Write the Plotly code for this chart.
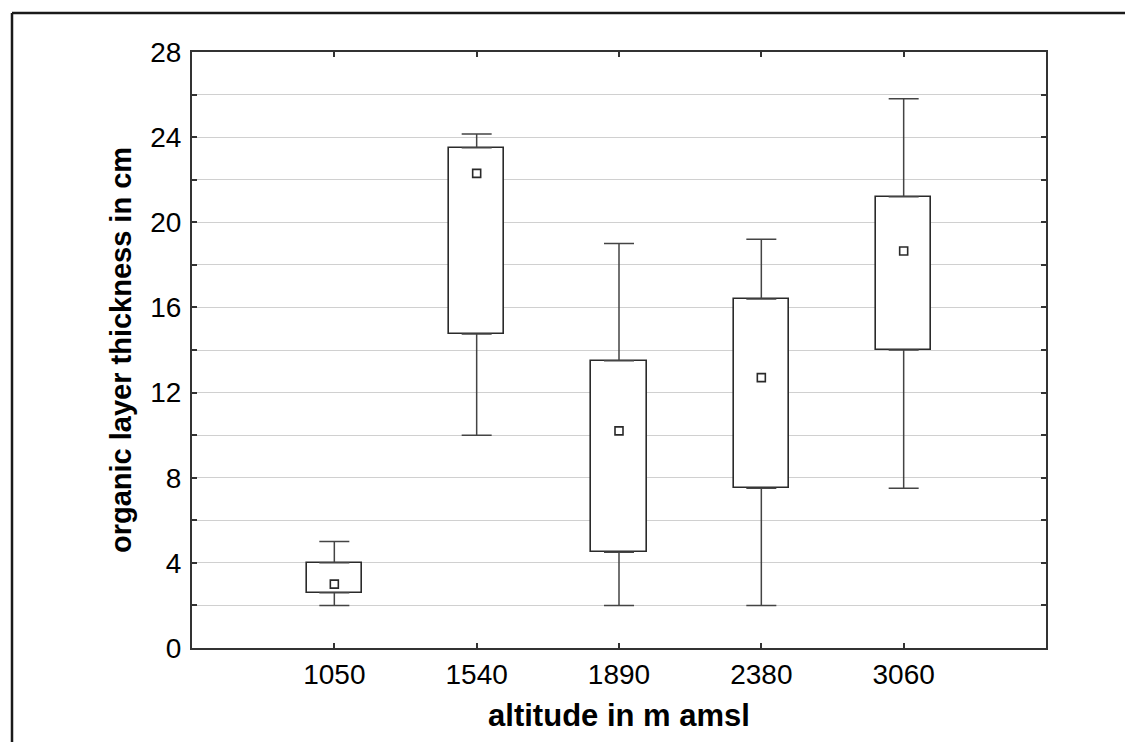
import plotly.graph_objects as go

# Organic layer thickness (cm) by altitude (m amsl)
altitudes = ["1050", "1540", "1890", "2380", "3060"]
whisker_low = [2.0, 10.0, 2.0, 2.0, 7.5]
box_low = [2.6, 14.75, 4.5, 7.5, 14.0]
box_high = [4.0, 23.5, 13.5, 16.4, 21.2]
whisker_high = [5.0, 24.15, 19.0, 19.2, 25.8]
centre_point = [3.0, 22.3, 10.2, 12.7, 18.65]

y_ticks = list(range(0, 29, 2))
y_tick_text = [str(v) if v % 4 == 0 else "" for v in y_ticks]

FONT = "Liberation Sans, Arial, sans-serif"
DARK = "#2a2a2a"

fig = go.Figure()

# boxes (lower to upper box edge)
fig.add_trace(go.Bar(
    x=altitudes,
    y=[h - l for h, l in zip(box_high, box_low)],
    base=box_low,
    width=0.39,
    marker=dict(color="white", line=dict(color=DARK, width=1.6)),
    showlegend=False,
    hoverinfo="skip",
))

# upper whiskers
fig.add_trace(go.Scatter(
    x=altitudes, y=box_high, mode="markers",
    marker=dict(size=1, color="rgba(0,0,0,0)"),
    error_y=dict(type="data", symmetric=False,
                 array=[w - b for w, b in zip(whisker_high, box_high)],
                 arrayminus=[0] * len(altitudes),
                 color="#444444", thickness=1.5, width=15),
    showlegend=False, hoverinfo="skip",
))

# lower whiskers
fig.add_trace(go.Scatter(
    x=altitudes, y=box_low, mode="markers",
    marker=dict(size=1, color="rgba(0,0,0,0)"),
    error_y=dict(type="data", symmetric=False,
                 array=[0] * len(altitudes),
                 arrayminus=[b - w for b, w in zip(box_low, whisker_low)],
                 color="#444444", thickness=1.5, width=15),
    showlegend=False, hoverinfo="skip",
))

# centre points
fig.add_trace(go.Scatter(
    x=altitudes, y=centre_point, mode="markers",
    marker=dict(symbol="square-open", size=8, color=DARK, line=dict(width=1.6)),
    showlegend=False,
))

axis_common = dict(
    showline=True, linecolor="#333333", linewidth=2, mirror="ticks",
    ticks="inside", ticklen=5, tickcolor="#333333", tickwidth=1.5,
    tickfont=dict(family=FONT, size=28, color="black"),
    zeroline=False,
)

fig.update_xaxes(
    **axis_common,
    type="category", range=[-1, 5], showgrid=False,
    title=dict(text="<b>altitude in m amsl</b>",
               font=dict(family=FONT, size=31, color="black"), standoff=16),
)
fig.update_yaxes(
    **axis_common,
    range=[0, 28], tickmode="array", tickvals=y_ticks, ticktext=y_tick_text,
    ticklabelstandoff=3,
    showgrid=True, gridcolor="#d0d0d0", gridwidth=1.2,
    title=dict(text="<b>organic layer thickness in cm</b>",
               font=dict(family=FONT, size=29, color="black"), standoff=10),
)

# outer frame lines (top and left)
frame_x = (12 - 192) / 854
frame_y = (648 - 13) / 596
fig.add_shape(type="line", xref="paper", yref="paper",
              x0=frame_x, x1=1.2, y0=frame_y, y1=frame_y,
              line=dict(color="#1a1a1a", width=2.5))
fig.add_shape(type="line", xref="paper", yref="paper",
              x0=frame_x, x1=frame_x, y0=frame_y, y1=-0.3,
              line=dict(color="#1a1a1a", width=2.5))

fig.update_layout(
    width=1125, height=742,
    margin=dict(l=192, r=79, t=52, b=94),
    paper_bgcolor="white", plot_bgcolor="white",
    font=dict(family=FONT, color="black"),
    bargap=0,
)

fig.write_html("out.html")
